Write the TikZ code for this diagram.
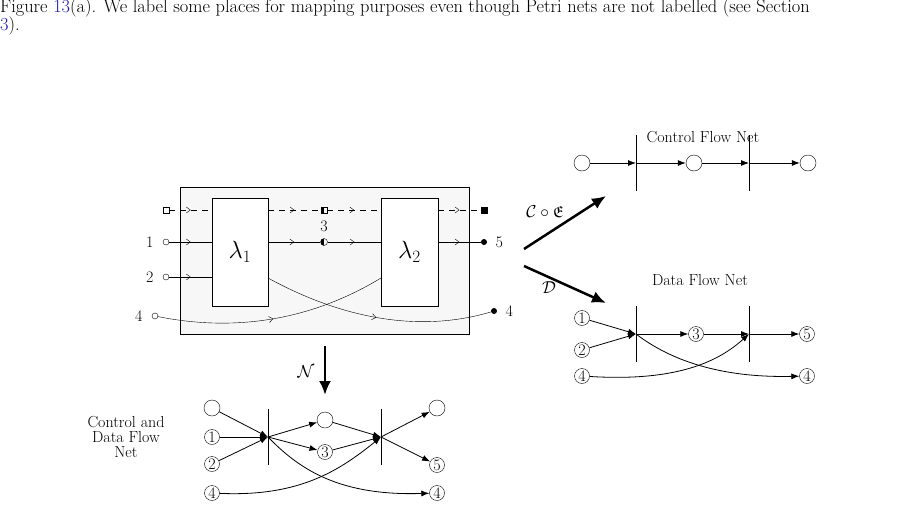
\documentclass[tikz,border=0pt]{standalone}
\usepackage{amssymb}
\usetikzlibrary{arrows.meta,decorations.markings}
\definecolor{linkblue}{RGB}{30,30,170}
\begin{document}
\begin{tikzpicture}[x=1pt,y=-1pt,
  midarr/.style={postaction={decorate},decoration={markings,mark=at position 0.5 with {\arrow{Straight Barb[length=4pt,width=6pt]}}}},
  pl/.style={circle,draw,fill=white,minimum size=16pt,inner sep=0pt},
  npl/.style={circle,draw,fill=white,minimum size=15pt,inner sep=0pt,font=\fontsize{16}{18}\selectfont},
  tr/.style={draw=none,minimum height=56pt,minimum width=0pt,inner sep=0pt},
  narr/.style={-{Latex[length=8pt,width=6pt]},thick},
  big/.style={line width=2.5pt,-{Latex[length=14pt,width=12pt]}},
  sp/.style={circle,draw,fill=white,minimum size=6pt,inner sep=0pt},
  lab/.style={font=\fontsize{16}{18}\selectfont},
  dsh/.style={dash pattern=on 6pt off 5pt}]
\useasboundingbox (0,0) rectangle (898,509);
% caption
\node[anchor=west,inner sep=0pt] (cap1) at (0,8) {\fontsize{18.4}{21}\selectfont Figure \textcolor{linkblue}{13}(a). We label some places for mapping purposes even though Petri nets are not labelled (see Section};
\node[anchor=west,inner sep=0pt] (cap2) at (0,26) {\fontsize{18.4}{21}\selectfont\textcolor{linkblue}{3}).};
% composite box
\node[draw,fill=black!3,minimum width=289pt,minimum height=147pt,inner sep=0pt] (box) at (325,260.5) {};
\node[draw,fill=white,minimum width=56pt,minimum height=108pt,inner sep=0pt,font=\fontsize{25}{28}\selectfont] (l1) at (240,252) {$\lambda_1$};
\node[draw,fill=white,minimum width=57pt,minimum height=108pt,inner sep=0pt,font=\fontsize{25}{28}\selectfont] (l2) at (409.5,252) {$\lambda_2$};
% dashed control line
\node[draw,fill=white,minimum size=6pt,inner sep=0pt] (sq0) at (166,210) {};
\node[draw,minimum size=6pt,inner sep=0pt,path picture={\fill (path picture bounding box.south west) rectangle (path picture bounding box.north);}] (sq1) at (324,210) {};
\node[draw,fill=black,minimum size=6pt,inner sep=0pt] (sq2) at (484,210) {};
\coordinate (a1) at (212,210); \coordinate (a2) at (268,210);
\coordinate (a3) at (381,210); \coordinate (a4) at (438,210);
\draw[dsh,midarr] (sq0) -- (a1);
\draw[dsh,midarr] (a2) -- (sq1);
\draw[dsh,midarr] (sq1) -- (a3);
\draw[dsh,midarr] (a4) -- (sq2);
% line 1 / 3 / 5
\node[sp] (p1) at (166,242) {}; \node[lab,anchor=east] (t1) at (157,242) {1};
\node[circle,draw,minimum size=7pt,inner sep=0pt,path picture={\fill (path picture bounding box.south west) rectangle (path picture bounding box.north);}] (p3) at (324,242) {};
\node[lab] (t3) at (324,226) {3};
\node[circle,fill=black,minimum size=6pt,inner sep=0pt] (p5) at (484,242) {}; \node[lab,anchor=west] (t5) at (492,242) {5};
\coordinate (b1) at (212,242); \coordinate (b2) at (268,242);
\coordinate (b3) at (381,242); \coordinate (b4) at (438,242);
\draw[midarr] (p1) -- (b1);
\draw[midarr] (b2) -- (p3);
\draw[midarr] (p3) -- (b3);
\draw[midarr] (b4) -- (p5);
% line 2
\node[sp] (p2) at (166,277) {}; \node[lab,anchor=east] (t2) at (157,277) {2};
\coordinate (c1) at (212,277);
\draw[midarr] (p2) -- (c1);
% crossing 4 curves
\node[sp] (p4) at (155,316) {}; \node[lab,anchor=east] (t4) at (146,316) {4};
\node[circle,fill=black,minimum size=6pt,inner sep=0pt] (p4b) at (494,311) {}; \node[lab,anchor=west] (t4b) at (502,311) {4};
\coordinate (d1) at (381,278); \coordinate (d2) at (268,278);
\draw[midarr] (p4) .. controls (245,334) and (320,315) .. (d1);
\draw[midarr] (d2) .. controls (330,312) and (410,336) .. (p4b);
% mapping arrows
\coordinate (m0) at (524,249); \coordinate (m1) at (606,196);
\coordinate (m2) at (524,266); \coordinate (m3) at (606,303);
\draw[big] (m0) -- (m1);
\draw[big] (m2) -- (m3);
\node[lab] (lce) at (545,212) {$\mathcal{C}\circ\mathfrak{E}$};
\node[lab] (ld) at (549,288) {$\mathcal{D}$};
% control flow net
\node[lab] (cfn) at (703,137) {Control Flow Net};
\node[pl] (c0) at (582,163) {};
\node[tr] (ct1) at (636,163) {}; \draw (ct1.north) -- (ct1.south);
\node[pl] (c1n) at (694,163) {};
\node[tr] (ct2) at (749,163) {}; \draw (ct2.north) -- (ct2.south);
\node[pl] (c2) at (808,163) {};
\draw[narr] (c0) -- (ct1.center);
\draw[narr] (ct1.center) -- (c1n);
\draw[narr] (c1n) -- (ct2.center);
\draw[narr] (ct2.center) -- (c2);
% data flow net
\node[lab] (dfn) at (700,280) {Data Flow Net};
\node[tr] (dt1) at (636,334) {}; \draw (dt1.north) -- (dt1.south);
\node[tr] (dt2) at (749,334) {}; \draw (dt2.north) -- (dt2.south);
\node[npl] (d1n) at (582,318) {1};
\node[npl] (d2n) at (582,350) {2};
\node[npl] (d3n) at (696,334) {3};
\node[npl] (d5n) at (807,334) {5};
\node[npl] (d4l) at (582,376) {4};
\node[npl] (d4r) at (807,376) {4};
\draw[narr] (d1n) -- (dt1.center);
\draw[narr] (d2n) -- (dt1.center);
\draw[narr] (dt1.center) -- (d3n);
\draw[narr] (d3n) -- (dt2.center);
\draw[narr] (dt2.center) -- (d5n);
\draw[narr] (d4l) .. controls (680,382) and (720,360) .. (dt2.center);
\draw[narr] (dt1.center) .. controls (670,360) and (720,378) .. (d4r);
% N arrow
\coordinate (n0) at (325,346); \coordinate (n1) at (325,395);
\draw[big] (n0) -- (n1);
\node[lab] (ln) at (306,372) {$\mathcal{N}$};
% control and data flow net
\node[lab,align=center] (cdfn) at (126,437) {Control and\\[-3pt]Data Flow\\[-3pt]Net};
\node[tr] (bt1) at (268,437) {}; \draw (bt1.north) -- (bt1.south);
\node[tr] (bt2) at (381,437) {}; \draw (bt2.north) -- (bt2.south);
\node[pl] (b0) at (212,408) {};
\node[npl] (b1n) at (212,437) {1};
\node[npl] (b2n) at (212,464) {2};
\node[npl] (b4l) at (212,493) {4};
\node[pl] (bm) at (325,420) {};
\node[npl] (b3n) at (325,452) {3};
\node[pl] (br) at (437,408) {};
\node[npl] (b5n) at (437,465) {5};
\node[npl] (b4r) at (437,493) {4};
\draw[narr] (b0) -- (bt1.center);
\draw[narr] (b1n) -- (bt1.center);
\draw[narr] (b2n) -- (bt1.center);
\draw[narr] (bt1.center) -- (bm);
\draw[narr] (bt1.center) -- (b3n);
\draw[narr] (bm) -- (bt2.center);
\draw[narr] (b3n) -- (bt2.center);
\draw[narr] (bt2.center) -- (br);
\draw[narr] (bt2.center) -- (b5n);
\draw[narr] (b4l) .. controls (300,497) and (340,470) .. (bt2.center);
\draw[narr] (bt1.center) .. controls (300,470) and (340,496) .. (b4r);
\end{tikzpicture}
\end{document}
